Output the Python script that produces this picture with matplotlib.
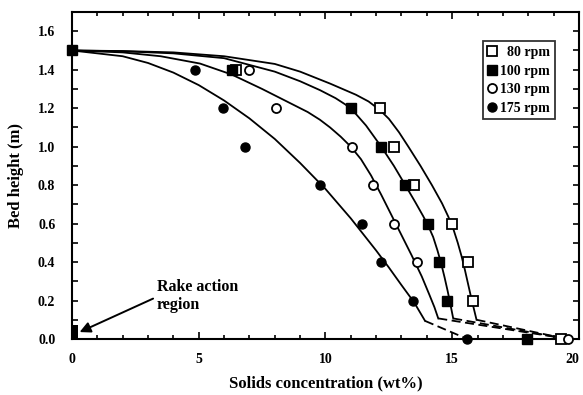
import matplotlib
matplotlib.use("Agg")
import matplotlib.pyplot as plt
from matplotlib.ticker import MultipleLocator
from matplotlib.transforms import ScaledTranslation

plt.rcParams['font.family'] = ['Liberation Serif', 'DejaVu Serif']
plt.rcParams['font.weight'] = 'bold'

# measured points (solids wt%, bed height m)
x80 = [12.15, 12.72, 13.5, 14.98, 15.63, 15.83, 19.3, 6.46]
y80 = [1.2, 1.0, 0.8, 0.6, 0.4, 0.2, 0.0, 1.4]
x100 = [0.0, 6.32, 11.0, 12.2, 13.15, 14.03, 14.49, 14.78, 17.95]
y100 = [1.5, 1.4, 1.2, 1.0, 0.8, 0.6, 0.4, 0.2, 0.0]
x130 = [6.98, 8.05, 11.06, 11.89, 12.72, 13.6, 19.55]
y130 = [1.4, 1.2, 1.0, 0.8, 0.6, 0.4, 0.0]
x175 = [4.85, 5.94, 6.82, 9.8, 11.43, 12.19, 13.46, 15.6]
y175 = [1.4, 1.2, 1.0, 0.8, 0.6, 0.4, 0.2, 0.0]

# model curves (solid part)
c80_x = [0, 2, 4, 6, 8, 9, 10.18, 11.2, 11.7, 12.15, 12.5, 12.9, 13.27, 13.75, 14.2, 14.6,
         14.85, 15.05, 15.22, 15.37, 15.5, 15.62, 15.74, 15.85, 15.96]
c80_y = [1.5, 1.497, 1.49, 1.47, 1.43, 1.39, 1.328, 1.27, 1.235, 1.19, 1.145, 1.075, 1.0, 0.9, 0.8, 0.705,
         0.635, 0.57, 0.5, 0.43, 0.36, 0.29, 0.22, 0.16, 0.1]
c100_x = [0, 2, 4, 6, 8, 9, 9.78, 10.4, 10.8, 11.2, 11.6, 12.2, 12.7, 13.15, 13.55, 13.85,
          14.05, 14.25, 14.42, 14.57, 14.7, 14.82, 14.93, 15.04]
c100_y = [1.5, 1.496, 1.485, 1.46, 1.39, 1.34, 1.294, 1.252, 1.218, 1.17, 1.11, 1.0, 0.9, 0.8, 0.71, 0.64,
          0.59, 0.53, 0.46, 0.39, 0.32, 0.25, 0.18, 0.107]
c130_x = [0, 2, 3.5, 5.05, 6.3, 7.5, 8.7, 9.3, 9.78, 10.18, 10.6, 11.0, 11.4, 11.8, 12.2, 12.6,
          13.0, 13.4, 13.8, 14.1, 14.3, 14.45]
c130_y = [1.5, 1.49, 1.47, 1.432, 1.375, 1.30, 1.22, 1.18, 1.14, 1.1, 1.052, 1.0, 0.935, 0.85, 0.75, 0.645,
          0.54, 0.435, 0.325, 0.23, 0.165, 0.107]
c175_x = [0, 2, 3, 4, 5, 6, 7, 8, 9, 10, 11, 12, 12.5, 13, 13.5, 13.93]
c175_y = [1.5, 1.47, 1.435, 1.385, 1.32, 1.24, 1.147, 1.04, 0.915, 0.78, 0.627, 0.46, 0.372, 0.28, 0.19, 0.094]

# dashed extensions (start of dash = end of solid curve)
d80_x = [15.96, 19.35]
d80_y = [0.1, 0.005]
d100_x = [15.04, 19.35]
d100_y = [0.107, 0.005]
d130_x = [14.45, 19.35]
d130_y = [0.107, 0.005]
d175_x = [13.93, 15.6]
d175_y = [0.094, 0.0]

rake_x = [0.0]
rake_h = [0.075]

fig = plt.figure(figsize=(5.83, 3.95), dpi=100)
ax = fig.add_axes([0.1235, 0.1418, 0.8695, 0.8278])

lw = 1.3
for cx, cy in [(c80_x, c80_y), (c100_x, c100_y), (c130_x, c130_y), (c175_x, c175_y)]:
    ax.plot(cx, cy, color='black', lw=lw, zorder=2, solid_joinstyle='round')
for dx, dy in [(d80_x, d80_y), (d100_x, d100_y), (d130_x, d130_y), (d175_x, d175_y)]:
    ax.plot(dx, dy, color='black', lw=lw, dashes=(5, 2.5), zorder=2)

ax.plot(x80, y80, 's', ms=7, mfc='white', mec='black', mew=1.3, ls='none', label='  80 rpm', zorder=3, clip_on=False)
ax.plot(x130, y130, 'o', ms=6.5, mfc='white', mec='black', mew=1.3, ls='none', label='130 rpm', zorder=4, clip_on=False)
ax.plot(x175, y175, 'o', ms=6.5, mfc='black', mec='black', ls='none', label='175 rpm', zorder=4, clip_on=False)
ax.plot(x100, y100, 's', ms=7, mfc='black', mec='black', ls='none', label='100 rpm', zorder=5, clip_on=False)

ax.bar(rake_x, rake_h, width=0.45, color='black', zorder=3)

ax.text(3.35, 0.224, 'Rake action\nregion', fontsize=11.5, fontweight='bold',
        ha='left', va='center', linespacing=1.1)
ax.annotate('', xy=(0.3, 0.036), xytext=(3.2, 0.21),
            arrowprops=dict(arrowstyle='-|>', color='black', lw=1.4,
                            mutation_scale=16, shrinkA=0, shrinkB=0))

ax.set_xlim(0, 20)
ax.set_ylim(0, 1.7)
ax.set_xticks([0, 5, 10, 15, 20])
ax.xaxis.set_minor_locator(MultipleLocator(1))
ax.set_yticks([0.0, 0.2, 0.4, 0.6, 0.8, 1.0, 1.2, 1.4, 1.6])
ax.set_yticklabels(['0.0', '0.2', '0.4', '0.6', '0.8', '1.0', '1.2', '1.4', '1.6'])
ax.yaxis.set_minor_locator(MultipleLocator(0.1))
ax.tick_params(which='both', direction='in', top=True, right=True, width=1.2, labelsize=10)
ax.tick_params(axis='x', which='major', length=5, pad=10)
ax.tick_params(axis='x', which='minor', length=3)
ax.tick_params(axis='y', which='both', length=4, pad=12)
for s in ax.spines.values():
    s.set_linewidth(1.5)

# last x tick label sits slightly left, as in the original
last = ax.get_xticklabels()[-1]
last.set_transform(last.get_transform() + ScaledTranslation(-5 / 72, 0, fig.dpi_scale_trans))

ax.set_xlabel('Solids concentration (wt%)', fontsize=12, fontweight='bold', labelpad=7)
ax.set_ylabel('Bed height (m)', fontsize=12, fontweight='bold', labelpad=10)

h, l = ax.get_legend_handles_labels()
order = ['  80 rpm', '100 rpm', '130 rpm', '175 rpm']
hh = [h[l.index(o)] for o in order]
leg = ax.legend(hh, order, loc='upper left', bbox_to_anchor=(0.81, 0.911), fontsize=10,
                frameon=True, fancybox=False, edgecolor='black', handlelength=0.6,
                handletextpad=0.3, borderpad=0.35, labelspacing=0.4, borderaxespad=0)
leg.get_frame().set_linewidth(1.3)

fig.savefig('out.png', dpi=100)
